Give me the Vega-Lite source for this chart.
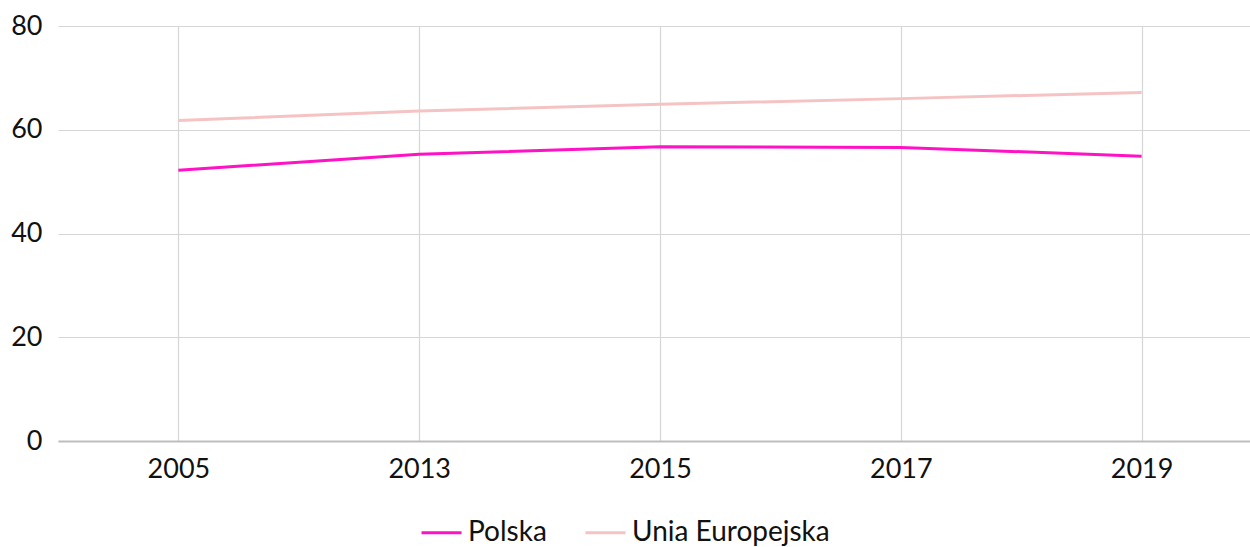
{
  "$schema": "https://vega.github.io/schema/vega-lite/v6.json",
  "width": 1204,
  "height": 415,
  "autosize": {"type": "none"},
  "padding": {"left": 58, "top": 26, "right": 0, "bottom": 106},
  "config": {
    "font": "Lato",
    "view": {"stroke": null},
    "axis": {"labelFont": "Lato", "labelFontSize": 27, "labelColor": "#111", "gridColor": "#d6d6d6", "gridWidth": 1.2, "ticks": false, "title": null}
  },
  "data": {
    "values": [
      {"year": "2005", "series": "Polska", "value": 52.2},
      {"year": "2013", "series": "Polska", "value": 55.3},
      {"year": "2015", "series": "Polska", "value": 56.7},
      {"year": "2017", "series": "Polska", "value": 56.6},
      {"year": "2019", "series": "Polska", "value": 54.9},
      {"year": "2005", "series": "Unia Europejska", "value": 61.8},
      {"year": "2013", "series": "Unia Europejska", "value": 63.6},
      {"year": "2015", "series": "Unia Europejska", "value": 64.9},
      {"year": "2017", "series": "Unia Europejska", "value": 66.0},
      {"year": "2019", "series": "Unia Europejska", "value": 67.2}
    ]
  },
  "mark": {"type": "line", "strokeWidth": 3},
  "encoding": {
    "x": {
      "field": "year", "type": "ordinal",
      "scale": {"type": "point", "padding": 0.5},
      "axis": {"labelAngle": 0, "grid": true, "domain": true, "domainColor": "#bdbdbd", "domainWidth": 2, "labelPadding": 15}
    },
    "y": {
      "field": "value", "type": "quantitative",
      "scale": {"domain": [0, 80]},
      "axis": {"values": [0, 20, 40, 60, 80], "domain": false, "labelPadding": 16}
    },
    "color": {
      "field": "series", "type": "nominal",
      "scale": {"domain": ["Polska", "Unia Europejska"], "range": ["#ff12c4", "#f5c3c3"]},
      "legend": {
        "title": null, "orient": "none", "direction": "horizontal",
        "legendX": 362, "legendY": 485,
        "symbolType": "stroke", "symbolSize": 1600, "symbolStrokeWidth": 3,
        "labelFont": "Lato", "labelFontSize": 28, "labelColor": "#111", "labelOffset": 5, "labelLimit": 400, "columnPadding": 32
      }
    }
  }
}
